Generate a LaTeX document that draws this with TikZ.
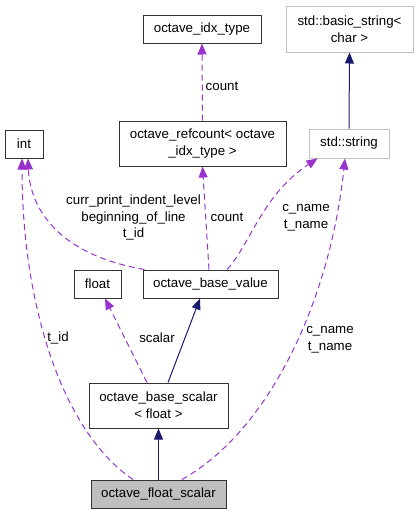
\documentclass[tikz,border=0pt]{standalone}
\usepackage{fontspec}
\setmainfont{Liberation Sans}
\usetikzlibrary{arrows.meta}
\definecolor{dep}{HTML}{9A32CD}
\definecolor{inh}{HTML}{191970}
\definecolor{greyb}{HTML}{BFBFBF}
\begin{document}
\begin{tikzpicture}[x=1pt,y=-1pt,
  every node/.style={font=\fontsize{13.3}{16.7}\selectfont,inner sep=0pt},
  cls/.style={draw=black!80,line width=1pt,minimum height=28pt,align=center},
  ext/.style={draw=greyb,line width=1pt,minimum height=28pt,align=center},
  depl/.style={dep,dashed,dash pattern=on 6pt off 4pt,line width=1pt,-{Triangle[length=11pt,width=9pt]}},
  inhl/.style={inh,line width=1pt,-{Triangle[length=11pt,width=9pt]}},
  lbl/.style={align=center}]
\useasboundingbox (0,0) rectangle (417,515);
% nodes
\node[cls,minimum width=118pt] (idx) at (202,29) {octave\_idx\_type};
\node[ext,minimum width=127pt,minimum height=46pt] (bstr) at (349.5,29) {std::basic\_string<\\char >};
\node[cls,minimum width=38pt] (int) at (24,144) {int};
\node[cls,minimum width=167pt,minimum height=45pt] (ref) at (202.5,143.5) {octave\_refcount< octave\\\_idx\_type >};
\node[ext,minimum width=80pt,minimum height=29pt] (str) at (349,143.5) {std::string};
\node[cls,minimum width=47pt] (flt) at (97.5,284) {float};
\node[cls,minimum width=135pt] (bval) at (210.5,284) {octave\_base\_value};
\node[cls,minimum width=139pt,minimum height=45pt] (bsc) at (158.5,405.5) {octave\_base\_scalar\\< float >};
\node[cls,fill=greyb,minimum width=135pt] (fsc) at (158.5,494) {octave\_float\_scalar};
% edges
\draw[depl] (ref.north) -- (idx.south);
\draw[inhl] (str.north) -- (bstr.south);
\draw[depl] ([xshift=2pt]bval.north west) .. controls (60,255) and (30,210) .. ([xshift=4pt]int.south);
\draw[depl] ([xshift=-1.5pt]bval.north) -- (ref.south);
\draw[depl] ([xshift=16.5pt]bval.north) .. controls (250,245) and (262,195) .. ([xshift=9pt]str.south west);
\draw[depl] ([xshift=-25.5pt]fsc.north) .. controls (60,430) and (22,300) .. ([xshift=-2pt]int.south);
\draw[depl] ([xshift=23.5pt]fsc.north) .. controls (270,430) and (330,300) .. ([xshift=-4pt]str.south);
\draw[depl] ([xshift=-11.5pt]bsc.north) -- ([xshift=7.5pt]flt.south);
\draw[inhl] ([xshift=9.5pt]bsc.north) -- ([xshift=-10.5pt]bval.south);
\draw[inhl] (fsc.north) -- (bsc.south);
% labels
\node[lbl] (l1) at (222,86) {count};
\node[lbl] (l2) at (133.5,217.5) {curr\_print\_indent\_level\\beginning\_of\_line\\t\_id};
\node[lbl] (l3) at (227,217) {count};
\node[lbl] (l4) at (306,217.5) {c\_name\\t\_name};
\node[lbl] (l5) at (58,338) {t\_id};
\node[lbl] (l6) at (157,338) {scalar};
\node[lbl] (l7) at (330,339.5) {c\_name\\t\_name};
\end{tikzpicture}
\end{document}
